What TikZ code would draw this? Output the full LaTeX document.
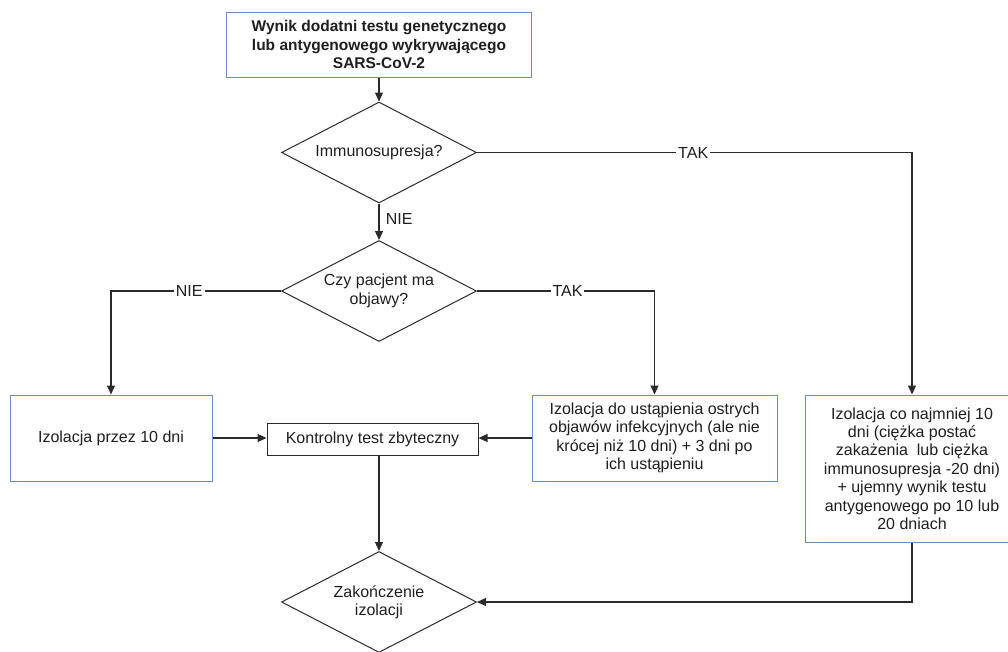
\documentclass[tikz,border=0pt]{standalone}
\usepackage{fontspec}
\setmainfont{Liberation Sans}
\usetikzlibrary{shapes.geometric,arrows.meta}
\definecolor{boxblue}{HTML}{6C8EBF}
\definecolor{ink}{HTML}{2B2B2B}
\begin{document}
\begin{tikzpicture}[x=1pt,y=-1pt,
  txt/.style={font=\fontsize{16}{18.4}\selectfont, text=black!88, align=center},
  bluebox/.style={txt, rectangle, draw=boxblue, line width=1pt, inner sep=0pt},
  blackbox/.style={txt, rectangle, draw=ink, line width=1pt, inner sep=0pt},
  decision/.style={txt, diamond, draw=ink, line width=1pt, inner sep=0pt, aspect=1.93, minimum width=195pt, minimum height=101pt},
  conn/.style={draw=ink, line width=1.1pt, -{Triangle[length=9pt,width=8pt]}},
  lbl/.style={txt, fill=white, inner sep=2pt},
]
\useasboundingbox (0,0) rectangle (1008,651);
\fill[white] (0,0) rectangle (1008,651);

\node[bluebox, minimum width=305pt, minimum height=65pt, font=\bfseries\fontsize{15.5}{18.5}\selectfont] (start) at (379,44.5)
  {Wynik dodatni testu genetycznego\\lub antygenowego wykrywającego\\SARS-CoV-2};
\node[decision] (d1) at (379,152.5) {Immunosupresja?};
\node[decision] (d2) at (379,291) {Czy pacjent ma\\objawy?};
\node[bluebox, minimum width=202pt, minimum height=86pt] (lbox) at (111,438) {Izolacja przez 10 dni};
\node[blackbox, minimum width=211pt, minimum height=32pt] (kon) at (372.5,439) {Kontrolny test zbyteczny};
\node[bluebox, minimum width=245pt, minimum height=86pt] (mbox) at (654.5,438)
  {Izolacja do ustąpienia ostrych\\objawów infekcyjnych (ale nie\\krócej niż 10 dni) + 3 dni po\\ich ustąpieniu};
\node[bluebox, minimum width=214pt, minimum height=147pt] (rbox) at (912,468.5)
  {Izolacja co najmniej 10\\dni (ciężka postać\\zakażenia\ \ lub ciężka\\immunosupresja -20 dni)\\+ ujemny wynik testu\\antygenowego po 10 lub\\20 dniach};
\node[decision] (zak) at (379,602) {Zakończenie\\izolacji};

\draw[conn] (start.south) -- (d1.north);
\draw[conn] (d1.south) -- node[txt, anchor=west, pos=0.42, xshift=3pt] (nie1) {NIE} (d2.north);
\draw[conn] (d1.east) -- node[lbl, pos=0.497] (tak1) {TAK} (d1.east -| rbox.north) -- (rbox.north);
\draw[conn] (d2.west) -- node[lbl, pos=0.54] (nie2) {NIE} (d2.west -| lbox.north) -- (lbox.north);
\draw[conn] (d2.east) -- node[lbl, pos=0.51] (tak2) {TAK} (d2.east -| mbox.north) -- (mbox.north);
\draw[conn] (lbox.east) -- (lbox.east -| kon.west);
\draw[conn] (mbox.west) -- (mbox.west -| kon.east);
\draw[conn] (kon.south -| zak.north) -- (zak.north);
\draw[conn] (rbox.south) |- (zak.east);
\end{tikzpicture}
\end{document}
